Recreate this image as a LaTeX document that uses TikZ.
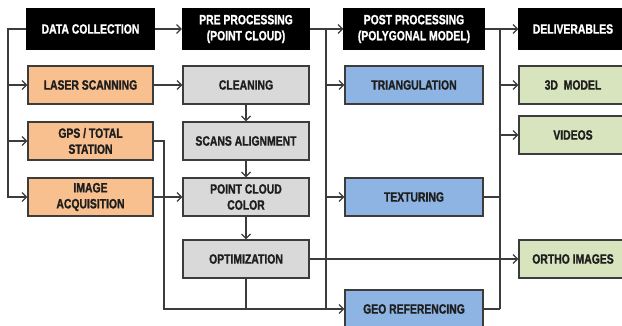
\documentclass[tikz,border=0pt]{standalone}
\usepackage{fontspec}
\newfontfamily\lblfont{Liberation Sans Bold}[FakeStretch=0.77, FakeBold=1.2]
\usetikzlibrary{arrows.meta}
\definecolor{linec}{HTML}{3C3C3C}
\definecolor{peach}{HTML}{F9C08F}
\definecolor{lgray}{HTML}{D9D9D9}
\definecolor{lblue}{HTML}{8DB4E2}
\definecolor{lgreen}{HTML}{D7E4BD}
\definecolor{txt}{HTML}{1E1E1E}
\tikzset{
  x=1pt, y=1pt,
  box/.style={draw=linec, line width=1.3pt, minimum height=38pt, inner sep=0pt,
    align=center, text=txt, font=\lblfont\fontsize{13.5}{16}\selectfont},
  head/.style={box, fill=black, draw=black, text=white, minimum height=40pt},
  acq/.style={box, fill=peach, minimum width=125pt},
  pre/.style={box, fill=lgray, minimum width=126pt},
  post/.style={box, fill=lblue, minimum width=138pt},
  deliv/.style={box, fill=lgreen, minimum width=108pt},
  conn/.style={draw=linec, line width=1.2pt},
  arr/.style={conn, -{Straight Barb[length=4.5pt,width=9pt]}}
}
\begin{document}
\begin{tikzpicture}
\clip (0,0) rectangle (622,-326);
\useasboundingbox (0,0) rectangle (622,-326);

% column headers
\node[head, minimum width=127pt] (dc)  at (90.5,-29) {DATA COLLECTION};
\node[head, minimum width=127pt] (ppc) at (246,-29) {PRE PROCESSING\\(POINT CLOUD)};
\node[head, minimum width=140pt] (ppm) at (414,-29) {POST PROCESSING\\(POLYGONAL MODEL)};
\node[head, minimum width=108pt] (del) at (573,-29) {DELIVERABLES};

% data collection
\node[acq] (laser) at (90.5,-85)  {LASER SCANNING};
\node[acq] (gps)   at (90.5,-141) {GPS / TOTAL\\STATION};
\node[acq] (img)   at (90.5,-197) {IMAGE\\ACQUISITION};

% pre processing
\node[pre] (clean) at (246,-85)  {CLEANING};
\node[pre] (scans) at (246,-141) {SCANS ALIGNMENT};
\node[pre] (pcc)   at (246,-197) {POINT CLOUD\\COLOR};
\node[pre] (opt)   at (246,-259) {OPTIMIZATION};

% post processing
\node[post] (tri) at (414,-85)  {TRIANGULATION};
\node[post] (tex) at (414,-197) {TEXTURING};
\node[post] (geo) at (414,-309) {GEO REFERENCING};

% deliverables
\node[deliv] (model) at (573,-85)  {3D\ \ MODEL};
\node[deliv] (vid)   at (573,-135) {VIDEOS};
\node[deliv] (ortho) at (573,-259) {ORTHO IMAGES};

% junction points of the bus lines
\coordinate (jL) at (8,-29);
\coordinate (jM) at (326,-29);
\coordinate (jR) at (500,-29);
\coordinate (jG) at (164,-141);

% header chain
\draw[arr] (dc.east) -- (ppc.west);
\draw[arr] (ppc.east) -- (ppm.west);
\draw[arr] (ppm.east) -- (del.west);

% left bus
\draw[arr] (dc.west) -- (jL) |- (img.west);
\draw[arr] (jL |- laser) -- (laser.west);
\draw[arr] (jL |- gps) -- (gps.west);

% into pre processing
\draw[arr] (laser.east) -- (clean.west);
\draw[arr] (img.east) -- (pcc.west);
\draw[arr] (clean.south) -- (scans.north);
\draw[arr] (scans.south) -- (pcc.north);
\draw[arr] (pcc.south) -- (opt.north);

% middle bus
\draw[conn] (jM) -- (jM |- geo);
\draw[arr] (jM |- tri) -- (tri.west);
\draw[arr] (jM |- tex) -- (tex.west);
\draw[arr] (gps.east) -- (jG) |- (geo.west);
\draw[conn] (opt.south) -- (opt.south |- geo);

% right bus
\draw[conn] (jR) -- (jR |- geo);
\draw[conn] (tex.east) -- (jR |- tex);
\draw[conn] (geo.east) -- (jR |- geo);
\draw[arr] (jR |- model) -- (model.west);
\draw[arr] (jR |- vid) -- (vid.west);
\draw[arr] (opt.east) -- (ortho.west);
\end{tikzpicture}
\end{document}
